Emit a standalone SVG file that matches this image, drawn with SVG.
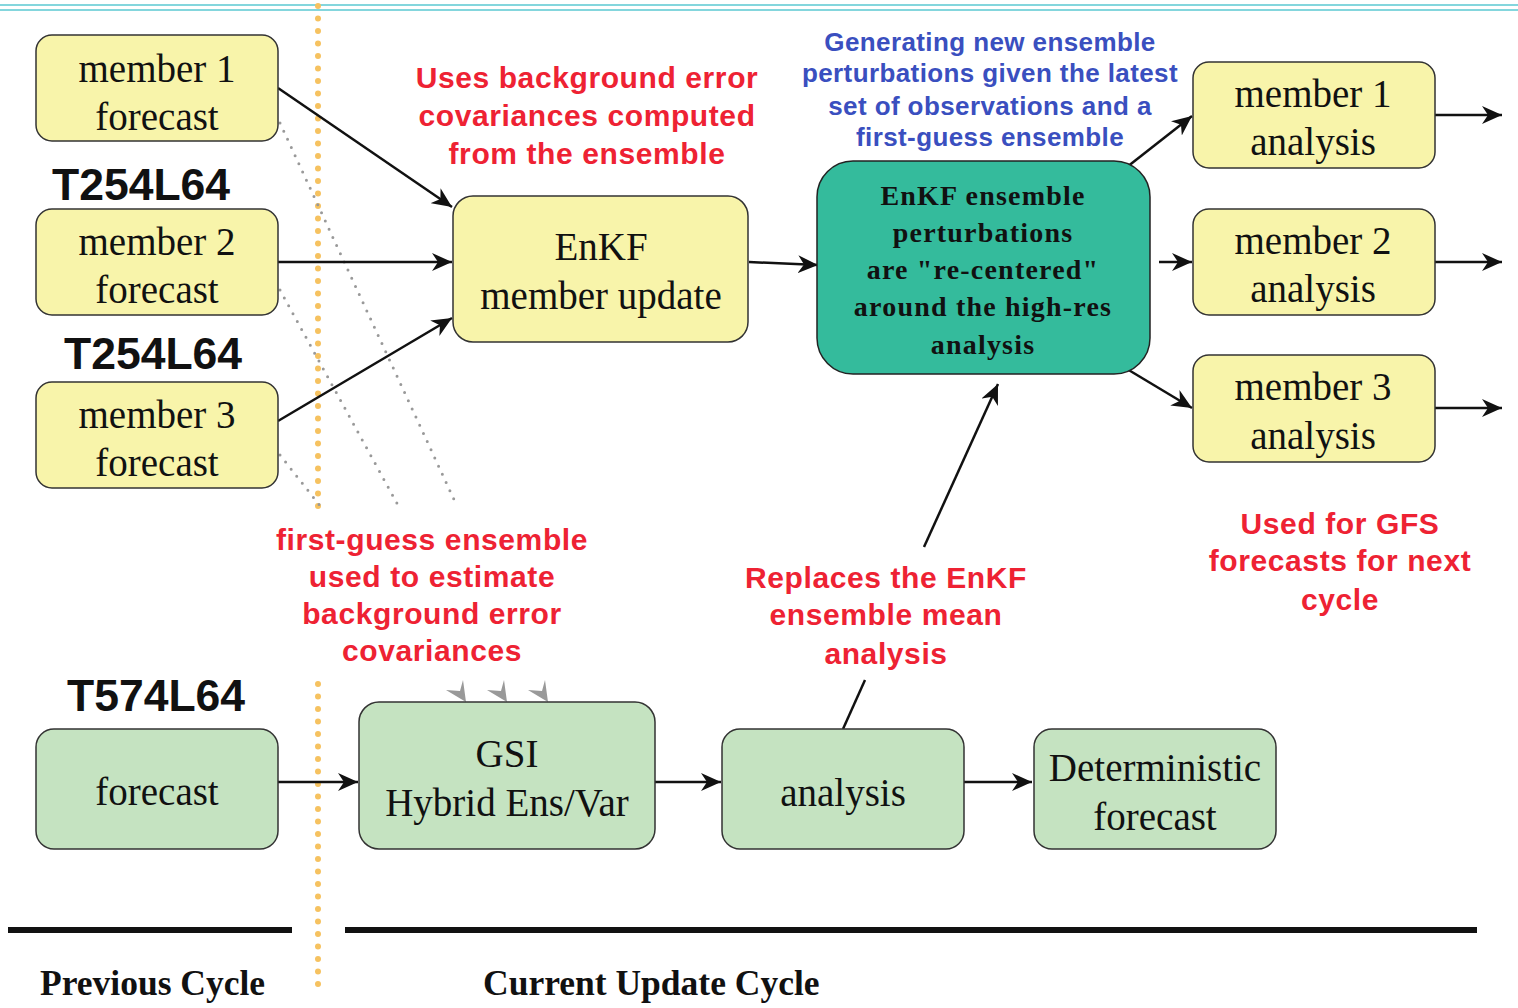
<svg xmlns="http://www.w3.org/2000/svg" width="1518" height="1008" viewBox="0 0 1518 1008">
<style>
.yb{fill:#f8f4aa;stroke:#333;stroke-width:1.5}
.gb{fill:#c5e3c1;stroke:#333;stroke-width:1.5}
.tb{fill:#34bb9c;stroke:#222;stroke-width:1.5}
.st{font-family:"Liberation Serif","Times New Roman",serif;font-size:39px;fill:#111;text-anchor:middle}
.sb{font-family:"Liberation Serif","Times New Roman",serif;font-size:28px;font-weight:bold;fill:#111;text-anchor:middle;letter-spacing:1.2px}
.red{font-family:"Liberation Sans",Arial,sans-serif;font-size:30px;font-weight:bold;fill:#ee2233;text-anchor:middle;letter-spacing:0.6px}
.blue{font-family:"Liberation Sans",Arial,sans-serif;font-size:26px;font-weight:bold;fill:#3a4fbf;text-anchor:middle;letter-spacing:0.4px}
.res{font-family:"Liberation Sans",Arial,sans-serif;font-size:44.5px;font-weight:bold;fill:#111}
.cyc{font-family:"Liberation Serif","Times New Roman",serif;font-size:35.5px;font-weight:bold;fill:#111}
.c{stroke:#111;stroke-width:2.5;fill:none}
.dot{stroke:#999;stroke-width:3;stroke-dasharray:0 9;stroke-linecap:round;fill:none}
.org{stroke:#f6c260;stroke-width:6;stroke-dasharray:0 12.5;stroke-linecap:round;fill:none}
</style>
<defs>
<marker id="ah" markerUnits="userSpaceOnUse" markerWidth="22" markerHeight="18" refX="20" refY="9" orient="auto">
<path d="M0,0 L20,9 L0,18 L6,9 Z" fill="#111"/>
</marker>
</defs>
<rect width="1518" height="1008" fill="#fff"/>
<line x1="0" y1="5" x2="1518" y2="5" stroke="#5bc8d2" stroke-width="1.5"/>
<line x1="0" y1="10" x2="1518" y2="10" stroke="#5bc8d2" stroke-width="1.5"/>

<g id="dividers">
<line class="org" x1="318" y1="6" x2="318" y2="507"/>
<line class="org" x1="318" y1="684" x2="318" y2="986"/>
<line x1="8" y1="930" x2="292" y2="930" stroke="#111" stroke-width="6"/>
<line x1="345" y1="930" x2="1477" y2="930" stroke="#111" stroke-width="6"/>
</g>

<g id="connectors">
<line class="dot" x1="280" y1="123" x2="457" y2="506"/>
<line class="dot" x1="280" y1="290" x2="399" y2="507"/>
<line class="dot" x1="280" y1="455" x2="321" y2="507"/>
<line class="c" x1="278" y1="88" x2="452" y2="207" marker-end="url(#ah)"/>
<line class="c" x1="278" y1="262" x2="452" y2="262" marker-end="url(#ah)"/>
<line class="c" x1="278" y1="421" x2="452" y2="318" marker-end="url(#ah)"/>
<line class="c" x1="749" y1="262" x2="818" y2="265" marker-end="url(#ah)"/>
<line class="c" x1="1127" y1="167" x2="1192" y2="116" marker-end="url(#ah)"/>
<line class="c" x1="1159" y1="262" x2="1192" y2="262" marker-end="url(#ah)"/>
<line class="c" x1="1127" y1="369" x2="1192" y2="408" marker-end="url(#ah)"/>
<line class="c" x1="1435" y1="115" x2="1502" y2="115" marker-end="url(#ah)"/>
<line class="c" x1="1435" y1="262" x2="1502" y2="262" marker-end="url(#ah)"/>
<line class="c" x1="1435" y1="408" x2="1502" y2="408" marker-end="url(#ah)"/>
<line class="c" x1="278" y1="782" x2="358" y2="782" marker-end="url(#ah)"/>
<line class="c" x1="655" y1="782" x2="721" y2="782" marker-end="url(#ah)"/>
<line class="c" x1="964" y1="782" x2="1032" y2="782" marker-end="url(#ah)"/>
<line class="c" x1="843" y1="729" x2="865" y2="680"/>
<line class="c" x1="924" y1="547" x2="998" y2="384" marker-end="url(#ah)"/>
<g fill="#999">
<polygon points="466,702 446,690 460,691 463,680"/>
<polygon points="507,702 487,690 501,691 504,680"/>
<polygon points="548,702 528,690 542,691 545,680"/>
</g>
</g>

<g id="m1f"><rect class="yb" x="36" y="35" width="242" height="106" rx="16"/>
<text class="st" x="157" y="82">member 1</text><text class="st" x="157" y="130">forecast</text></g>
<g id="m2f"><rect class="yb" x="36" y="209" width="242" height="106" rx="16"/>
<text class="st" x="157" y="255">member 2</text><text class="st" x="157" y="303">forecast</text></g>
<g id="m3f"><rect class="yb" x="36" y="382" width="242" height="106" rx="16"/>
<text class="st" x="157" y="428">member 3</text><text class="st" x="157" y="476">forecast</text></g>
<text class="res" x="52" y="200">T254L64</text>
<text class="res" x="64" y="369">T254L64</text>

<g id="enkf_update"><rect class="yb" x="453" y="196" width="295" height="146" rx="20"/>
<text class="st" x="601" y="260">EnKF</text><text class="st" x="601" y="309">member update</text></g>

<g id="recenter"><rect class="tb" x="817" y="161" width="333" height="213" rx="36"/>
<text class="sb" x="983" y="205">EnKF ensemble</text>
<text class="sb" x="983" y="242">perturbations</text>
<text class="sb" x="983" y="279">are "re-centered"</text>
<text class="sb" x="983" y="316">around the high-res</text>
<text class="sb" x="983" y="354">analysis</text></g>

<g id="m1a"><rect class="yb" x="1193" y="62" width="242" height="106" rx="16"/>
<text class="st" x="1313" y="107">member 1</text><text class="st" x="1313" y="155">analysis</text></g>
<g id="m2a"><rect class="yb" x="1193" y="209" width="242" height="106" rx="16"/>
<text class="st" x="1313" y="254">member 2</text><text class="st" x="1313" y="302">analysis</text></g>
<g id="m3a"><rect class="yb" x="1193" y="355" width="242" height="107" rx="16"/>
<text class="st" x="1313" y="400">member 3</text><text class="st" x="1313" y="449">analysis</text></g>

<text class="res" x="67" y="711">T574L64</text>
<g id="fcst"><rect class="gb" x="36" y="729" width="242" height="120" rx="18"/>
<text class="st" x="157" y="805">forecast</text></g>
<g id="gsi"><rect class="gb" x="359" y="702" width="296" height="147" rx="20"/>
<text class="st" x="507" y="767">GSI</text><text class="st" x="507" y="816">Hybrid Ens/Var</text></g>
<g id="anal"><rect class="gb" x="722" y="729" width="242" height="120" rx="18"/>
<text class="st" x="843" y="806">analysis</text></g>
<g id="det"><rect class="gb" x="1034" y="729" width="242" height="120" rx="18"/>
<text class="st" x="1155" y="781">Deterministic</text><text class="st" x="1155" y="830">forecast</text></g>

<g id="notes">
<text class="red" x="587" y="88">Uses background error</text>
<text class="red" x="587" y="126">covariances computed</text>
<text class="red" x="587" y="164">from the ensemble</text>
<text class="blue" x="990" y="51">Generating new ensemble</text>
<text class="blue" x="990" y="82">perturbations given the latest</text>
<text class="blue" x="990" y="115">set of observations and a</text>
<text class="blue" x="990" y="146">first-guess ensemble</text>
<text class="red" x="432" y="550">first-guess ensemble</text>
<text class="red" x="432" y="587">used to estimate</text>
<text class="red" x="432" y="624">background error</text>
<text class="red" x="432" y="661">covariances</text>
<text class="red" x="886" y="588">Replaces the EnKF</text>
<text class="red" x="886" y="625">ensemble mean</text>
<text class="red" x="886" y="664">analysis</text>
<text class="red" x="1340" y="534">Used for GFS</text>
<text class="red" x="1340" y="571">forecasts for next</text>
<text class="red" x="1340" y="610">cycle</text>
</g>
<text class="cyc" x="40" y="995">Previous Cycle</text>
<text class="cyc" x="483" y="995">Current Update Cycle</text>
</svg>
